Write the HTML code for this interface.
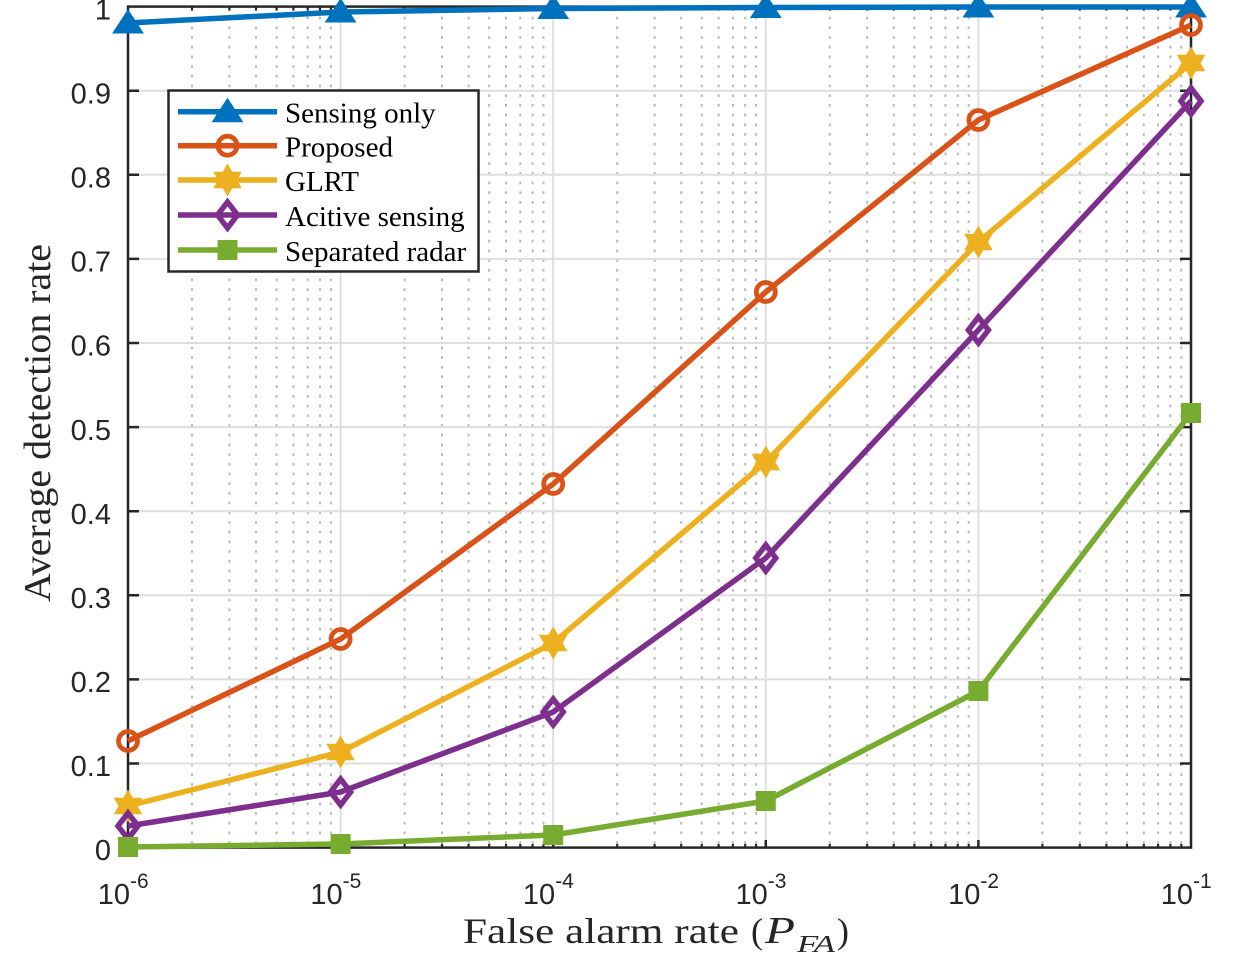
<!DOCTYPE html>
<html>
<head>
<meta charset="utf-8">
<style>
html,body{margin:0;padding:0;background:#fff;}
svg{display:block;}
</style>
</head>
<body>
<svg width="1248" height="957" viewBox="0 0 1248 957" xmlns="http://www.w3.org/2000/svg">
<defs>
  <path id="tri" d="M0,-13 L15,10 L-15,10 Z"/>
  <circle id="circ" r="9.5"/>
  <path id="star" d="M0,-14.5 L4.2,-7.25 L12.56,-7.25 L8.4,0 L12.56,7.25 L4.2,7.25 L0,14.5 L-4.2,7.25 L-12.56,7.25 L-8.4,0 L-12.56,-7.25 L-4.2,-7.25 Z"/>
  <path id="dia" d="M0,-13 L10,0 L0,13 L-10,0 Z"/>
  <rect id="sq" x="-10" y="-10" width="20" height="20"/>
</defs>
<rect width="1248" height="957" fill="#fff"/>

<!-- minor vertical grid (dotted) -->
<g stroke="#b8b8b8" stroke-width="2" stroke-dasharray="2.7 7">
  <path d="M192,7V848 M229.4,7V848 M256,7V848 M276.6,7V848 M293.4,7V848 M307.7,7V848 M320,7V848 M330.9,7V848
           M404.6,7V848 M442,7V848 M468.6,7V848 M489.2,7V848 M506,7V848 M520.3,7V848 M532.6,7V848 M543.5,7V848
           M617.2,7V848 M654.6,7V848 M681.2,7V848 M701.8,7V848 M718.6,7V848 M732.9,7V848 M745.2,7V848 M756.1,7V848
           M829.8,7V848 M867.2,7V848 M893.8,7V848 M914.4,7V848 M931.2,7V848 M945.5,7V848 M957.8,7V848 M968.7,7V848
           M1042.4,7V848 M1079.8,7V848 M1106.4,7V848 M1127,7V848 M1143.8,7V848 M1158.1,7V848 M1170.4,7V848 M1181.3,7V848"/>
</g>
<!-- major grid -->
<g stroke="#dedede" stroke-width="2">
  <path d="M340.6,7V848 M553.2,7V848 M765.8,7V848 M978.4,7V848"/>
  <path d="M128,763.5H1191 M128,679.4H1191 M128,595.3H1191 M128,511.2H1191 M128,427.1H1191 M128,343H1191 M128,258.9H1191 M128,174.8H1191 M128,90.7H1191"/>
</g>

<!-- axes box and ticks -->
<g stroke="#262626" stroke-width="2.5" fill="none">
  <rect x="128" y="6.6" width="1063" height="841"/>
  <path d="M128,763.5h11 M128,679.4h11 M128,595.3h11 M128,511.2h11 M128,427.1h11 M128,343h11 M128,258.9h11 M128,174.8h11 M128,90.7h11
           M1191,763.5h-11 M1191,679.4h-11 M1191,595.3h-11 M1191,511.2h-11 M1191,427.1h-11 M1191,343h-11 M1191,258.9h-11 M1191,174.8h-11 M1191,90.7h-11"/>
  <path d="M340.6,848v-8 M553.2,848v-8 M765.8,848v-8 M978.4,848v-8
           M340.6,6.6v8 M553.2,6.6v8 M765.8,6.6v8 M978.4,6.6v8"/>
  <path stroke-width="2.2" d="M192,848v-4 M229.4,848v-4 M256,848v-4 M276.6,848v-4 M293.4,848v-4 M307.7,848v-4 M320,848v-4 M330.9,848v-4
           M404.6,848v-4 M442,848v-4 M468.6,848v-4 M489.2,848v-4 M506,848v-4 M520.3,848v-4 M532.6,848v-4 M543.5,848v-4
           M617.2,848v-4 M654.6,848v-4 M681.2,848v-4 M701.8,848v-4 M718.6,848v-4 M732.9,848v-4 M745.2,848v-4 M756.1,848v-4
           M829.8,848v-4 M867.2,848v-4 M893.8,848v-4 M914.4,848v-4 M931.2,848v-4 M945.5,848v-4 M957.8,848v-4 M968.7,848v-4
           M1042.4,848v-4 M1079.8,848v-4 M1106.4,848v-4 M1127,848v-4 M1143.8,848v-4 M1158.1,848v-4 M1170.4,848v-4 M1181.3,848v-4"/>
  <path stroke-width="2.2" d="M192,6.6v4 M229.4,6.6v4 M256,6.6v4 M276.6,6.6v4 M293.4,6.6v4 M307.7,6.6v4 M320,6.6v4 M330.9,6.6v4
           M404.6,6.6v4 M442,6.6v4 M468.6,6.6v4 M489.2,6.6v4 M506,6.6v4 M520.3,6.6v4 M532.6,6.6v4 M543.5,6.6v4
           M617.2,6.6v4 M654.6,6.6v4 M681.2,6.6v4 M701.8,6.6v4 M718.6,6.6v4 M732.9,6.6v4 M745.2,6.6v4 M756.1,6.6v4
           M829.8,6.6v4 M867.2,6.6v4 M893.8,6.6v4 M914.4,6.6v4 M931.2,6.6v4 M945.5,6.6v4 M957.8,6.6v4 M968.7,6.6v4
           M1042.4,6.6v4 M1079.8,6.6v4 M1106.4,6.6v4 M1127,6.6v4 M1143.8,6.6v4 M1158.1,6.6v4 M1170.4,6.6v4 M1181.3,6.6v4"/>
</g>

<!-- y tick labels -->
<g font-family="Liberation Sans, Arial, sans-serif" font-size="29" fill="#262626" text-anchor="end">
  <text x="111" y="860">0</text>
  <text x="111" y="776">0.1</text>
  <text x="111" y="692">0.2</text>
  <text x="111" y="608">0.3</text>
  <text x="111" y="524">0.4</text>
  <text x="111" y="440">0.5</text>
  <text x="111" y="355.5">0.6</text>
  <text x="111" y="271.5">0.7</text>
  <text x="111" y="187.5">0.8</text>
  <text x="111" y="103.3">0.9</text>
  <text x="111" y="19.5">1</text>
</g>

<!-- x tick labels -->
<g font-family="Liberation Sans, Arial, sans-serif" fill="#262626">
  <text x="130" y="904" font-size="29" text-anchor="end">10</text><text x="130" y="888" font-size="21">-6</text>
  <text x="342.6" y="904" font-size="29" text-anchor="end">10</text><text x="342.6" y="888" font-size="21">-5</text>
  <text x="555.2" y="904" font-size="29" text-anchor="end">10</text><text x="555.2" y="888" font-size="21">-4</text>
  <text x="767.8" y="904" font-size="29" text-anchor="end">10</text><text x="767.8" y="888" font-size="21">-3</text>
  <text x="980.4" y="904" font-size="29" text-anchor="end">10</text><text x="980.4" y="888" font-size="21">-2</text>
  <text x="1193" y="904" font-size="29" text-anchor="end">10</text><text x="1193" y="888" font-size="21">-1</text>
</g>

<!-- axis labels -->
<g font-family="Liberation Serif, Times New Roman, serif" fill="#262626">
  <text x="463" y="943" font-size="36" textLength="276" lengthAdjust="spacingAndGlyphs">False alarm rate</text>
  <text x="751" y="943" font-size="36">(</text>
  <text x="765" y="943" font-size="38" font-style="italic" textLength="30" lengthAdjust="spacingAndGlyphs">P</text>
  <text x="797" y="952" font-size="24" font-style="italic" textLength="38" lengthAdjust="spacingAndGlyphs">FA</text>
  <text x="837" y="943" font-size="36">)</text>
  <text transform="translate(50,423) rotate(-90)" font-size="38" text-anchor="middle" textLength="358" lengthAdjust="spacingAndGlyphs">Average detection rate</text>
</g>

<!-- data series -->
<g fill="none" stroke-width="5.5" stroke-linejoin="round" stroke-linecap="butt">
  <polyline stroke="#0072BD" points="128,23 340.6,12 553.2,8.5 765.8,7.5 978.4,7 1191,7"/>
  <polyline stroke="#D95319" points="128,741 340.6,639 553.2,484 765.8,292 978.4,120 1191,25"/>
  <polyline stroke="#EDB120" points="128,806 340.6,752 553.2,643 765.8,462 978.4,242 1191,63"/>
  <polyline stroke="#7E2F8E" points="128,826 340.6,792 553.2,712 765.8,558 978.4,330 1191,101"/>
  <polyline stroke="#77AC30" points="128,847 340.6,844 553.2,835 765.8,801 978.4,691 1191,413"/>
</g>

<!-- markers -->
<g fill="#0072BD" stroke="#0072BD" stroke-width="1">
  <use href="#tri" x="128" y="23"/><use href="#tri" x="340.6" y="12"/><use href="#tri" x="553.2" y="8.5"/>
  <use href="#tri" x="765.8" y="7.5"/><use href="#tri" x="978.4" y="7"/><use href="#tri" x="1191" y="7"/>
</g>
<g fill="none" stroke="#D95319" stroke-width="4.8">
  <use href="#circ" x="128" y="741"/><use href="#circ" x="340.6" y="639"/><use href="#circ" x="553.2" y="484"/>
  <use href="#circ" x="765.8" y="292"/><use href="#circ" x="978.4" y="120"/><use href="#circ" x="1191" y="25"/>
</g>
<g fill="#EDB120" stroke="#EDB120" stroke-width="2" stroke-linejoin="miter">
  <use href="#star" x="128" y="806"/><use href="#star" x="340.6" y="752"/><use href="#star" x="553.2" y="643"/>
  <use href="#star" x="765.8" y="462"/><use href="#star" x="978.4" y="242"/><use href="#star" x="1191" y="63"/>
</g>
<g fill="none" stroke="#7E2F8E" stroke-width="5.5" stroke-linejoin="miter">
  <use href="#dia" x="128" y="826"/><use href="#dia" x="340.6" y="792"/><use href="#dia" x="553.2" y="712"/>
  <use href="#dia" x="765.8" y="558"/><use href="#dia" x="978.4" y="330"/><use href="#dia" x="1191" y="101"/>
</g>
<g fill="#77AC30">
  <use href="#sq" x="128" y="847"/><use href="#sq" x="340.6" y="844"/><use href="#sq" x="553.2" y="835"/>
  <use href="#sq" x="765.8" y="801"/><use href="#sq" x="978.4" y="691"/><use href="#sq" x="1191" y="413"/>
</g>

<!-- legend -->
<rect x="168.5" y="90.5" width="310" height="181" fill="#fff" stroke="#262626" stroke-width="2.5"/>
<g fill="none" stroke-width="5.5">
  <path stroke="#0072BD" d="M178,111.7H277"/>
  <path stroke="#D95319" d="M178,145.7H277"/>
  <path stroke="#EDB120" d="M178,180H277"/>
  <path stroke="#7E2F8E" d="M178,215H277"/>
  <path stroke="#77AC30" d="M178,250H277"/>
</g>
<use href="#tri" x="227.5" y="111.7" fill="#0072BD" stroke="#0072BD" stroke-width="1"/>
<use href="#circ" x="227.5" y="145.7" fill="none" stroke="#D95319" stroke-width="4.8"/>
<use href="#star" x="227.5" y="180" fill="#EDB120" stroke="#EDB120" stroke-width="2"/>
<use href="#dia" x="227.5" y="215" fill="none" stroke="#7E2F8E" stroke-width="5.5"/>
<use href="#sq" x="227.5" y="250" fill="#77AC30"/>
<g font-family="Liberation Serif, Times New Roman, serif" font-size="29" fill="#000">
  <text x="285" y="122.7">Sensing only</text>
  <text x="285" y="156.7">Proposed</text>
  <text x="285" y="191">GLRT</text>
  <text x="285" y="226">Acitive sensing</text>
  <text x="285" y="261">Separated radar</text>
</g>
</svg>
</body>
</html>
